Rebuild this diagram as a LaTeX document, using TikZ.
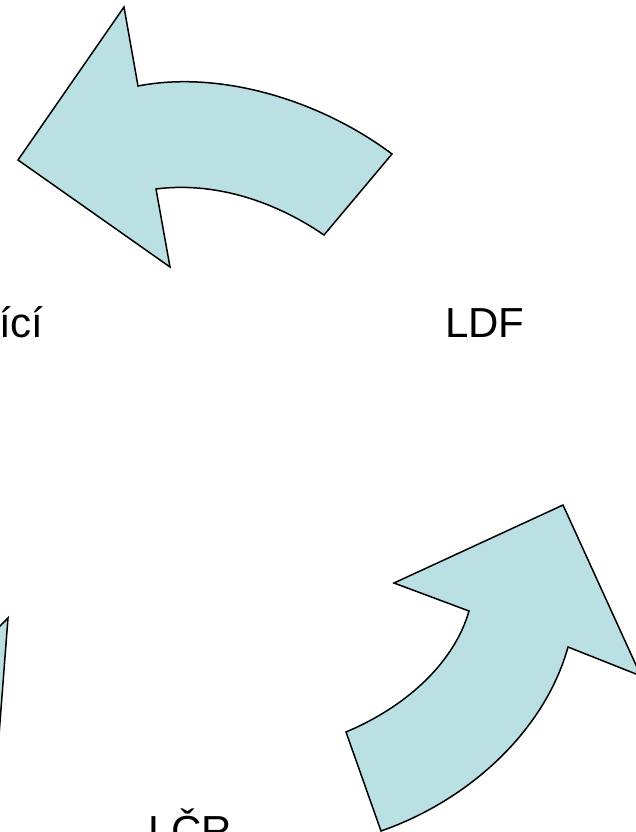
\documentclass[tikz,border=0pt]{standalone}
\usepackage{fontspec}
\setmainfont{Liberation Sans}
\usepackage{xcolor}
\usetikzlibrary{positioning}

\definecolor{arrowblue}{RGB}{187,224,227}

\begin{document}
\begin{tikzpicture}[
            x=1pt, y=-1pt,
            bend arrow/.style={fill=arrowblue, draw=black, line width=1.5pt, line join=miter},
            word/.style={font=\fontsize{42}{50}\selectfont, inner sep=0pt, anchor=base west},
        ]
            \useasboundingbox (0,0) rectangle (636,832);
            \clip (0,0) rectangle (636,832);
            % top arrow, pointing left
            \draw[bend arrow] (124,7) -- (138,86)
                .. controls (220,70) and (320,100) .. (392,154)
                -- (324,235)
                .. controls (270,198) and (210,182) .. (156,189)
                -- (170,267) -- (18,160) -- cycle;
            % right arrow, pointing up
            \draw[bend arrow] (563,505) -- (641,676) -- (568,647)
                .. controls (545,730) and (470,800) .. (381,831)
                -- (346,732)
                .. controls (410,705) and (455,660) .. (469,611)
                -- (394,583) -- cycle;
            % left arrow, only its tip
            \draw[bend arrow] (8,618) -- (-10,636) -- (-1,735) -- cycle;
            % labels
            \node[word] (rost) at (-1,337) {ící};
            \node[word] (ldf) at (445,337) {LDF};
            \node[word] (lcr) at (148,845) {LČR};
        \end{tikzpicture}
\end{document}
